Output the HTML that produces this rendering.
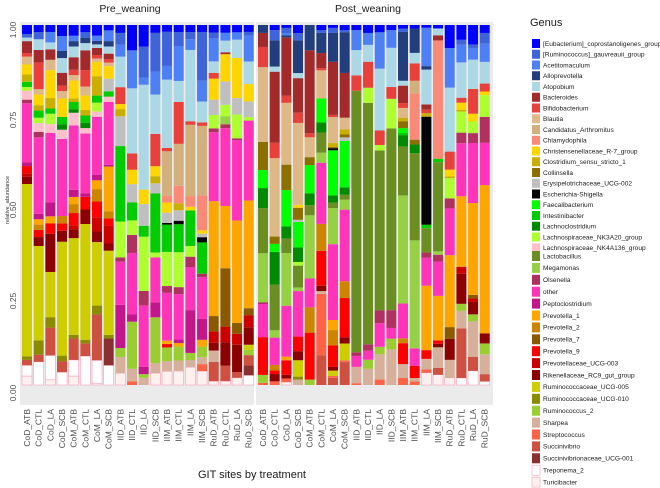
<!DOCTYPE html>
<html><head><meta charset="utf-8"><style>
html,body{margin:0;padding:0;background:#fff;}
svg{display:block;font-family:"Liberation Sans",sans-serif;}
</style></head><body>
<svg id="chart" width="660" height="488" viewBox="0 0 660 488">
<rect x="20" y="22" width="234" height="383" fill="#ebebeb"/>
<rect x="256" y="22" width="237" height="383" fill="#ebebeb"/>
<text x="130" y="12" font-size="10.5" text-anchor="middle" fill="#1a1a1a">Pre_weaning</text>
<text x="368" y="12" font-size="10.5" text-anchor="middle" fill="#1a1a1a">Post_weaning</text>
<text transform="translate(9,200) rotate(-90)" font-size="5.5" text-anchor="middle" fill="#333">relative_abundance</text>
<text x="252" y="478" font-size="11" text-anchor="middle" fill="#1a1a1a">GIT sites by treatment</text>
<text x="530" y="26" font-size="11" fill="#1a1a1a">Genus</text>
<g id="bars"></g><g id="yaxis"></g><g id="xaxis"></g><g id="legend"></g>
</svg>
<script>
const genera = ["[Eubacterium]_coprostanoligenes_group","[Ruminococcus]_gauvreauii_group","Acetitomaculum","Alloprevotella","Atopobium","Bacteroides","Bifidobacterium","Blautia","Candidatus_Arthromitus","Chlamydophila","Christensenellaceae_R-7_group","Clostridium_sensu_stricto_1","Collinsella","Erysipelotrichaceae_UCG-002","Escherichia-Shigella","Faecalibacterium","Intestinibacter","Lachnoclostridium","Lachnospiraceae_NK3A20_group","Lachnospiraceae_NK4A136_group","Lactobacillus","Megamonas","Olsenella","other","Peptoclostridium","Prevotella_1","Prevotella_2","Prevotella_7","Prevotella_9","Prevotellaceae_UCG-003","Rikenellaceae_RC9_gut_group","Ruminococcaceae_UCG-005","Ruminococcaceae_UCG-010","Ruminococcus_2","Sharpea","Streptococcus","Succinivibrio","Succinivibrionaceae_UCG-001","Treponema_2","Turicibacter"];
const codes = ["Eub","RumG","Acet","Allo","Atop","Bact","Bifi","Blau","Cand","Chla","Chri","Clos","Coll","Erys","Esch","Faec","Inte","Lachno","NK3A20","NK4A136","Lacto","Mega","Olse","other","Pepto","Prev1","Prev2","Prev7","Prev9","PUCG","Rik","R005","R010","Rum2","Sharpea","Strep","Succ","SuccUCG","Trep","Turi"];
const colors = ["#0000ff","#3f63d8","#4d7ff5","#233e7c","#acd7e4","#a32a2a","#e8403a","#deb887","#d2b07e","#f98a78","#ffd500","#c9b000","#8b7000","#bfbfbf","#050505","#00ff00","#00cc00","#008a00","#adff2f","#ffc0cb","#6b8e23","#96d045","#b0305f","#ff34b8","#c3168a","#ffa500","#cd8500","#8b5a00","#ff0000","#cd0000","#8b0000","#cdcd00","#8b8b00","#9acd32","#d6b09a","#ff6347","#cd5040","#8b3030","#ffffff","#fff0f0"];
const preLabels = ["CoD_ATB","CoD_CTL","CoD_LA","CoD_SCB","CoM_ATB","CoM_CTL","CoM_LA","CoM_SCB","IID_ATB","IID_CTL","IID_LA","IID_SCB","IIM_ATB","IIM_CTL","IIM_LA","IIM_SCB","RuD_ATB","RuD_CTL","RuD_LA","RuD_SCB"];
const postLabels = preLabels.slice();
const yTicks = ["1.00","0.75","0.50","0.25","0.00"];
const yTickValues = [1,0.75,0.5,0.25,0];
const preValues = [
"Eub:.025 RumG:.01 Atop:.01 Bact:.033 Bifi:.01 Blau:.022 Chri:.028 Clos:.02 Inte:.015 NK3A20:.01 NK4A136:.025 other:.165 Pepto:.01 Olse:.01 Prev9:.02 PUCG:.01 Rik:.02 R005:.48 R010:.01 Succ:.015 Trep:.03 Turi:.025",
"Eub:.02 RumG:.02 Atop:.03 Bact:.035 Bifi:.075 Blau:.015 Chri:.03 Clos:.015 Inte:.02 NK3A20:.015 NK4A136:.025 Pepto:.015 other:.215 Olse:.015 Prev1:.015 Prev2:.015 Prev9:.02 Rik:.025 R005:.265 R010:.04 Succ:.02 Trep:.065",
"Eub:.02 Acet:.03 Atop:.02 Bact:.03 Blau:.03 Chri:.08 Clos:.03 Inte:.015 NK3A20:.03 NK4A136:.025 Pepto:.04 other:.2 Prev1:.02 Prev9:.03 Rik:.11 R005:.13 R010:.03 Succ:.08 Trep:.07 Turi:.015",
"Eub:.03 Acet:.04 Allo:.02 Atop:.04 Bact:.035 Bifi:.015 Blau:.02 Chri:.05 Inte:.02 Lachno:.015 NK4A136:.025 other:.21 Prev2:.02 Prev9:.02 Rik:.03 R005:.31 R010:.015 Succ:.03 Trep:.035",
"Eub:.03 Acet:.015 Allo:.015 Atop:.03 Bact:.035 Bifi:.015 Blau:.015 Chri:.05 Clos:.01 Inte:.02 Lachno:.01 NK4A136:.035 other:.18 Pepto:.02 Prev1:.02 Prev2:.025 Prev9:.035 Rik:.025 PUCG:.01 R005:.27 R010:.01 Succ:.06 Trep:.045 Turi:.025",
"Eub:.02 RumG:.015 Allo:.015 Atop:.02 Bact:.055 Bifi:.045 Blau:.025 Chri:.04 Clos:.015 Inte:.02 Lachno:.015 NK4A136:.015 other:.165 Pepto:.01 Prev9:.035 Rik:.04 R005:.32 R010:.01 Succ:.035 Trep:.08",
"Eub:.03 Acet:.015 Allo:.01 Atop:.01 Bact:.02 Bifi:.01 Blau:.01 Chri:.04 Clos:.055 Inte:.02 NK3A20:.025 NK4A136:.015 other:.165 Pepto:.015 Prev1:.025 Prev2:.035 Prev9:.045 Rik:.03 PUCG:.04 R005:.18 R010:.025 Succ:.13 Trep:.065 Turi:.005",
"Eub:.015 Acet:.03 Allo:.015 Atop:.02 Bact:.015 Bifi:.01 Blau:.01 Chri:.035 Erys:.035 Inte:.015 NK4A136:.015 other:.175 Pepto:.005 Prev1:.125 Prev2:.02 Prev9:.02 PUCG:.05 Rik:.02 R005:.235 R010:.01 SuccUCG:.075 Trep:.055",
"Eub:.022 RumG:.033 Acet:.033 Atop:.085 Bifi:.047 Chri:.014 Clos:.02 Erys:.083 Inte:.21 NK3A20:.1 Olse:.012 other:.12 Pepto:.12 Rum2:.025 Sharpea:.045 Turi:.033",
"Eub:.07 Acet:.105 Atop:.18 Bifi:.045 Chri:.04 Erys:.05 Inte:.05 NK3A20:.04 Olse:.05 other:.17 Pepto:.02 Rum2:.13 Sharpea:.035 Strep:.01",
"Eub:.06 RumG:.085 Acet:.02 Atop:.29 Chri:.04 Erys:.06 Inte:.03 NK3A20:.15 Olse:.04 other:.17 Pepto:.02 Rum2:.01 Sharpea:.02",
"Eub:.022 RumG:.108 Acet:.064 Atop:.11 Bifi:.09 Chri:.028 Clos:.02 Erys:.028 Inte:.165 NK3A20:.014 other:.125 Pepto:.042 Rum2:.128 Sharpea:.028 Turi:.033",
"Eub:.02 RumG:.1 Acet:.04 Atop:.2 Bifi:.01 Cand:.13 Chla:.02 Chri:.03 Erys:.03 Esch:.005 Inte:.08 NK3A20:.1 Olse:.02 other:.14 Prev1:.01 Prev9:.01 Rum2:.04 Sharpea:.03 Turi:.04",
"Eub:.02 RumG:.04 Acet:.1 Atop:.06 Bifi:.12 Cand:.12 Chla:.05 Clos:.02 Erys:.03 Esch:.01 Inte:.08 NK3A20:.1 Olse:.02 other:.13 Pepto:.01 Prev1:.01 Rum2:.04 Sharpea:.03 Turi:.04",
"Eub:.02 RumG:.02 Acet:.03 Atop:.2 Bifi:.01 Cand:.2 Chla:.03 Chri:.01 Inte:.1 NK3A20:.03 Olse:.03 other:.12 Pepto:.12 Rum2:.02 Sharpea:.02 Turi:.05",
"Eub:.02 RumG:.14 Acet:.06 Atop:.06 Bifi:.01 Cand:.2 Chla:.1 Chri:.01 Erys:.01 Esch:.015 Inte:.09 Olse:.01 other:.12 Pepto:.06 Prev1:.02 Rum2:.03 Sharpea:.02 Strep:.02 Turi:.04",
"Eub:.02 RumG:.015 Acet:.06 Atop:.03 Bifi:.015 Chri:.055 Erys:.04 NK3A20:.035 Olse:.01 other:.18 Prev1:.3 Prev7:.04 PUCG:.03 Rik:.02 Sharpea:.03 Succ:.05 Turi:.01",
"Eub:.02 Acet:.02 Atop:.03 Bact:.005 Chri:.07 Erys:.06 NK3A20:.03 Olse:.01 other:.2 Prev1:.16 Prev7:.15 PUCG:.04 Rik:.06 Mega:.02 Succ:.04 Turi:.01",
"Eub:.02 Acet:.02 Atop:.05 Chri:.11 Erys:.045 NK3A20:.065 Olse:.005 other:.22 Prev1:.28 Prev7:.03 PUCG:.03 Rik:.075 Succ:.015 Turi:.02",
"Eub:.02 RumG:.01 Acet:.075 Atop:.065 Chri:.05 Erys:.045 NK3A20:.01 other:.23 Prev1:.31 Prev7:.02 PUCG:.035 Rik:.05 R005:.015 Rum2:.015 Succ:.03 SuccUCG:.028 Trep:.028"
];
const postValues = [
"Allo:.022 Bact:.039 Bifi:.056 Blau:.208 Coll:.078 Faec:.05 Lachno:.056 Lacto:.125 Mega:.136 other:.092 Olse:.005 Prev9:.105 Rum2:.022 Strep:.006",
"Eub:.014 RumG:.028 Allo:.072 Atop:.014 Bact:.195 Bifi:.042 Blau:.215 Coll:.02 Faec:.022 Lachno:.09 Lacto:.125 Mega:.02 other:.075 Prev2:.015 Prev9:.01 Rik:.02 Strep:.01",
"Eub:.008 RumG:.014 Acet:.006 Allo:.006 Bact:.16 Bifi:.02 Blau:.17 Coll:.07 Faec:.1 Lachno:.033 Lacto:.04 Mega:.145 other:.14 Prev1:.01 Prev9:.04 Rik:.01 Strep:.01 Turi:.008",
"Eub:.022 RumG:.02 Allo:.09 Atop:.014 Bact:.095 Bifi:.028 Blau:.225 Chri:.008 Coll:.033 Faec:.07 Lachno:.04 NK3A20:.01 Erys:.006 Lacto:.06 Mega:.01 other:.125 Prev9:.04 Rik:.025 R005:.045 R010:.008 Sharpea:.015",
"Allo:.07 Bact:.23 Bifi:.011 Blau:.055 Coll:.022 Faec:.078 Lachno:.033 Lacto:.028 Mega:.175 other:.08 Prev2:.07 Prev9:.13 Rum2:.015",
"Eub:.014 RumG:.008 Allo:.056 Bact:.042 Bifi:.006 Blau:.078 Faec:.067 Lachno:.028 Lacto:.056 Mega:.028 other:.17 Prev2:.075 Prev9:.097 Rik:.015 Sharpea:.008 Strep:.17 Succ:.083",
"Eub:.008 RumG:.014 Allo:.08 Bact:.147 Bifi:.006 Blau:.072 Clos:.011 Coll:.003 Esch:.006 Faec:.125 Lachno:.02 Lacto:.015 Mega:.1 other:.21 Prev1:.028 Prev2:.042 Prev9:.06 Rik:.01 R005:.015 Succ:.02 Strep:.005",
"Eub:.014 RumG:.006 Allo:.114 Bact:.125 Blau:.033 Clos:.014 Coll:.008 Faec:.13 Lachno:.02 Erys:.01 Lacto:.014 Mega:.028 other:.2 Prev2:.047 Prev9:.11 Rik:.017 R005:.047 Succ:.064 Strep:.005",
"Eub:.014 Acet:.055 Atop:.07 Bifi:.042 Lacto:.72 Olse:.01 other:.03 Sharpea:.045 Strep:.005",
"Eub:.022 Acet:.033 Atop:.047 Bifi:.072 NK3A20:.042 Lacto:.67 Olse:.018 other:.025 Rum2:.025 Sharpea:.045",
"Eub:.02 Acet:.1 Atop:.17 Bifi:.04 NK3A20:.015 Lacto:.44 Olse:.035 other:.065 Rum2:.02 Sharpea:.07 Strep:.015",
"Eub:.014 Acet:.05 Atop:.11 Bifi:.033 NK3A20:.083 Lacto:.51 Olse:.05 other:.03 Rum2:.03 Sharpea:.1",
"Eub:.01 RumG:.01 Allo:.14 Atop:.014 Bact:.05 Bifi:.014 Blau:.028 Clos:.01 Coll:.02 Faec:.014 Lachno:.033 Inte:.006 Lacto:.14 Mega:.31 other:.1 Prev2:.014 Prev9:.06 Strep:.02 Sharpea:.04",
"Eub:.01 Allo:.07 Atop:.03 Bifi:.05 Cand:.036 Chla:.133 Coll:.014 Lachno:.025 Lacto:.25 Mega:.31 other:.05 Prev9:.035 Strep:.01 Sharpea:.01",
"Eub:.008 Acet:.11 Allo:.01 Atop:.1 Bact:.015 Bifi:.01 Clos:.01 Esch:.31 Inte:.01 Lacto:.07 Olse:.015 other:.08 Prev1:.185 Prev9:.025 Sharpea:.03 Strep:.01 Turi:.035",
"Eub:.01 Atop:.02 Bact:.015 Chla:.345 Inte:.01 Mega:.01 Lacto:.26 Olse:.02 other:.1 Prev1:.13 Rik:.01 Prev9:.01 Sharpea:.06 Succ:.02 Turi:.03",
"Eub:.064 Acet:.11 Atop:.178 Bifi:.05 Chri:.019 Clos:.005 NK3A20:.056 Olse:.028 other:.13 Prev1:.2 Prev7:.033 Rik:.058 Sharpea:.05 Turi:.02",
"Eub:.042 RumG:.014 Acet:.05 Atop:.1 Bifi:.014 Chri:.02 Clos:.005 NK3A20:.06 Olse:.03 other:.15 Prev1:.2 PUCG:.02 Rik:.085 Rum2:.02 Sharpea:.05 Succ:.14 Trep:.02",
"Eub:.055 RumG:.01 Acet:.033 Atop:.083 Bifi:.07 Chri:.022 NK3A20:.033 Olse:.028 other:.17 Prev1:.26 Prev7:.01 PUCG:.01 Rik:.035 Rum2:.02 Sharpea:.1 Succ:.04 Trep:.04",
"Eub:.022 RumG:.03 Acet:.05 Atop:.06 Bifi:.022 Chri:.01 NK3A20:.06 Olse:.072 other:.117 Prev1:.41 Rik:.028 Rum2:.03 Sharpea:.055 Succ:.02 Trep:.01"
];
const NS = "http://www.w3.org/2000/svg";
const yTop = 25, yBot = 385;
function yScale(v){ return yBot - v*(yBot-yTop); }
function xScale(panel, i){ return (panel===0 ? 22 : 258) + i*11.67; }
function parse(s){ const o={}; s.split(" ").forEach(p=>{const [k,v]=p.split(":"); o[k]=parseFloat(v);}); return o; }
const barsG = document.getElementById("bars");
[preValues, postValues].forEach((panelVals, p)=>{
  panelVals.forEach((s, i)=>{
    const vals = parse(s);
    let total = 0; codes.forEach(c=>{ total += vals[c]||0; });
    let cum = 0;
    const x = xScale(p, i);
    for (let g = codes.length-1; g >= 0; g--) {
      const v = (vals[codes[g]]||0)/total;
      if (v <= 0) continue;
      const r = document.createElementNS(NS, "rect");
      const y1 = yScale(cum + v), y0 = yScale(cum);
      r.setAttribute("x", x.toFixed(2));
      r.setAttribute("y", y1.toFixed(2));
      r.setAttribute("width", 10);
      r.setAttribute("height", (y0-y1).toFixed(2));
      r.setAttribute("fill", colors[g]);
      r.setAttribute("stroke", g>=38 ? "#f4a0b8" : "none");
      r.setAttribute("stroke-width", "0.6");
      
      
      barsG.appendChild(r);
      cum += v;
    }
  });
});
const yG = document.getElementById("yaxis");
const yLabelPos = [30, 120, 210, 301, 393];
yTicks.forEach((t, i)=>{
  const tx = document.createElementNS(NS, "text");
  tx.setAttribute("transform", "translate(16," + yLabelPos[i] + ") rotate(-90)");
  tx.setAttribute("font-size", "8.5");
  tx.setAttribute("text-anchor", "middle");
  tx.setAttribute("fill", "#4d4d4d");
  tx.textContent = t;
  
  
  yG.appendChild(tx);
});
const xG = document.getElementById("xaxis");
[preLabels, postLabels].forEach((labs, p)=>{
  labs.forEach((l, i)=>{
    const cx = xScale(p, i) + 5 + 3;
    const tx = document.createElementNS(NS, "text");
    tx.setAttribute("transform", "translate(" + cx.toFixed(2) + ",409) rotate(-90)");
    tx.setAttribute("font-size", "8.5");
    tx.setAttribute("text-anchor", "end");
    tx.setAttribute("fill", "#4d4d4d");
    tx.textContent = l;
    
    
    xG.appendChild(tx);
  });
});
const lg = document.getElementById("legend");
genera.forEach((name, g)=>{
  const y = g < 20 ? 39 + g*10.75 : 251 + (g-20)*11.9;
  const h = g < 20 ? 9 : 10;
  const r = document.createElementNS(NS, "rect");
  r.setAttribute("x", 532); r.setAttribute("y", y.toFixed(2));
  r.setAttribute("width", 8); r.setAttribute("height", h);
  r.setAttribute("fill", colors[g]);
  r.setAttribute("stroke", g>=38 ? "#f4a0b8" : "none");
  r.setAttribute("stroke-width", "0.6");
  
  
  lg.appendChild(r);
  const t = document.createElementNS(NS, "text");
  t.setAttribute("x", 543); t.setAttribute("y", (y + h/2 + 2.3).toFixed(2));
  t.setAttribute("font-size", "6.6");
  t.setAttribute("font-family", "'Liberation Sans Narrow','Liberation Sans',sans-serif");
  t.setAttribute("fill", "#1a1a1a");
  t.textContent = name;
  
  
  lg.appendChild(t);
});
</script>
</body></html>
